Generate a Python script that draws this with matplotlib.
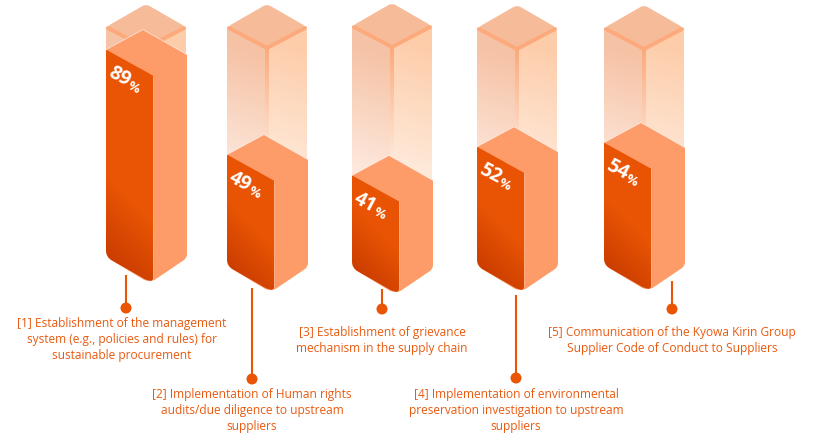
import numpy as np
import matplotlib
matplotlib.use('Agg')
import matplotlib.pyplot as plt
from matplotlib.colors import to_rgb
from matplotlib.path import Path
from matplotlib.patches import PathPatch, Circle

# Data
values = [89, 49, 41, 52, 54]
labels = [
    "[1] Establishment of the management\nsystem (e.g., policies and rules) for\nsustainable procurement",
    "[2] Implementation of Human rights\naudits/due diligence to upstream\nsuppliers",
    "[3] Establishment of grievance\nmechanism in the supply chain",
    "[4] Implementation of environmental\npreservation investigation to upstream\nsuppliers",
    "[5] Communication of the Kyowa Kirin Group\nSupplier Code of Conduct to Suppliers",
]

# Layout in pixels
bar_left = [106, 227, 352, 477, 604]
bar_base = [261, 262, 262, 262, 263]
bar_bottom = [281, 290, 292, 290, 289]
ghost_apex = [4, 4, 3, 5, 5]
px_per_pct = 2.6

stem_x = [126, 252, 382, 516, 672]
stem_top = [275, 288, 289, 295, 281]
dot_y = [308, 379, 309, 378, 309]
label_y = [317, 388, 326, 388, 326]
label_x = [122, 252, 382, 516, 672]

ORANGE = '#e95504'
SIDE = '#fd9c69'
TEXT = '#e95a10'

plt.rcParams['font.family'] = ['Open Sans', 'DejaVu Sans']

fig = plt.figure(figsize=(8.17, 4.42), dpi=100)
ax = fig.add_axes([0, 0, 1, 1])


def rounded(points, radii):
    # Polygon with rounded corners, radius per vertex
    pts = [np.array(p, dtype=float) for p in points]
    n = len(pts)
    verts, codes = [], []
    for i in range(n):
        p, a, b = pts[i], pts[i - 1], pts[(i + 1) % n]
        r = radii[i]
        s = p + (a - p) / np.linalg.norm(a - p) * r
        e = p + (b - p) / np.linalg.norm(b - p) * r
        verts.append(s)
        codes.append(Path.MOVETO if i == 0 else Path.LINETO)
        if r > 0:
            verts += [p, e]
            codes += [Path.CURVE3, Path.CURVE3]
    verts.append(verts[0])
    codes.append(Path.CLOSEPOLY)
    return Path(verts, codes)


def gradient(path, stops, direction, start, length, z):
    # Fill a path with a linear gradient measured in pixels
    bb = path.get_extents()
    x0, x1, y0, y1 = int(bb.x0) - 1, int(bb.x1) + 2, int(bb.y0) - 1, int(bb.y1) + 2
    xx, yy = np.meshgrid(np.arange(x0, x1) + .5, np.arange(y0, y1) + .5)
    d = np.array(direction, dtype=float)
    d /= np.linalg.norm(d)
    t = ((xx - start[0]) * d[0] + (yy - start[1]) * d[1]) / length
    pos = [s[0] for s in stops]
    rgb = np.array([to_rgb(s[1]) for s in stops])
    img = np.dstack([np.interp(t, pos, rgb[:, k]) for k in range(3)])
    im = ax.imshow(img, extent=(x0, x1, y1, y0), origin='upper', aspect='auto',
                   interpolation='bilinear', zorder=z)
    im.set_clip_path(PathPatch(path, transform=ax.transData))


def draw_ghost(x, top, fill_apex):
    mid = x + 40
    right = x + 80
    yc = top + 23
    ym = top + 43
    low = fill_apex + 30

    # front and side faces of the empty part
    front = rounded([(x, yc), (mid, ym), (mid, low), (x, low)], [0, 0, 0, 0])
    side = rounded([(mid, ym), (right, yc), (right, low), (mid, low)], [0, 3, 0, 0])
    gradient(front, [(0, '#f6c3a6'), (1, '#fff4ee')], (-.35, 1), (x, ym), 150, 1)
    gradient(side, [(0, '#fdcca9'), (1, '#fff0e4')], (-.35, 1), (right, ym), 150, 1)
    gradient(rounded([(mid - 2, ym), (mid + 2, ym), (mid + 2, low), (mid - 2, low)], [0, 0, 0, 0]),
             [(0, '#fba97c'), (1, '#fff0e4')], (0, 1), (mid, ym), 125, 2)

    # lid
    lid = rounded([(x, yc), (mid, top), (right, yc), (mid, ym)], [5, 4, 5, 2])
    ax.add_patch(PathPatch(lid, fc='#f6bc9a', ec='none', zorder=3))
    ax.plot([x + 2, mid, right - 2], [yc + 1, ym + 1, yc + 1], color='#fca97b', lw=2.8,
            solid_capstyle='round', solid_joinstyle='round', zorder=4)


def draw_bar(x, value, base, bottom):
    apex_y = base - value * px_per_pct
    yl = apex_y + 20
    ym = apex_y + 46
    yr = apex_y + 25
    mid = x + 47
    apex_x = x + 37
    right = x + 81
    bl = bottom - 24
    br = bottom - 23

    # lid and side share one colour
    body = rounded([(x, yl), (apex_x, apex_y), (right, yr), (right, br), (mid, bottom),
                    (x + 40, bottom), (x, bl)], [0, 0, 0, 4, 3, 3, 6])
    ax.add_patch(PathPatch(body, fc=SIDE, ec='none', zorder=5))
    ax.plot([x, apex_x, right], [yl, apex_y, yr], color='white', lw=.6, alpha=.6, zorder=6)

    # front face, dark only towards the lower left corner
    front = rounded([(x, yl), (mid, ym), (mid, bottom), (x + 42, bottom), (x, bl)], [1, 0, 3, 5, 7])
    gradient(front, [(0, '#c63a00'), (1, ORANGE)], (1, -1), (x, bl + 10),
             42 + .1 * (bottom - yl), 7)
    ax.plot([mid, mid], [ym, bottom - 3], color='#fbb48e', lw=.5, zorder=8)

    # percent label runs along the top edge of the front face
    ax.text(x + 13, yl + 27, f'{value}', color='white', fontsize=14, fontweight='bold',
            rotation=-28, rotation_mode='anchor', ha='center', va='center', zorder=9)
    ax.text(x + 28, yl + 38, '%', color='white', fontsize=9.5, fontweight='bold',
            rotation=-28, rotation_mode='anchor', ha='center', va='center', zorder=9)


for i, val in enumerate(values):
    draw_ghost(bar_left[i], ghost_apex[i], bar_base[i] - val * px_per_pct)
    draw_bar(bar_left[i], val, bar_base[i], bar_bottom[i])
    ax.plot([stem_x[i], stem_x[i]], [stem_top[i], dot_y[i]], color=ORANGE, lw=1.5,
            solid_capstyle='butt', zorder=3)
    ax.add_patch(Circle((stem_x[i], dot_y[i]), 5.5, fc=ORANGE, ec='none', zorder=4))
    ax.text(label_x[i], label_y[i], labels[i], color=TEXT, fontsize=8.55, ha='center', va='top',
            linespacing=1.28, zorder=4)

ax.set_xlim(0, 817)
ax.set_ylim(442, 0)
ax.axis('off')

fig.savefig('out.png', dpi=100)
